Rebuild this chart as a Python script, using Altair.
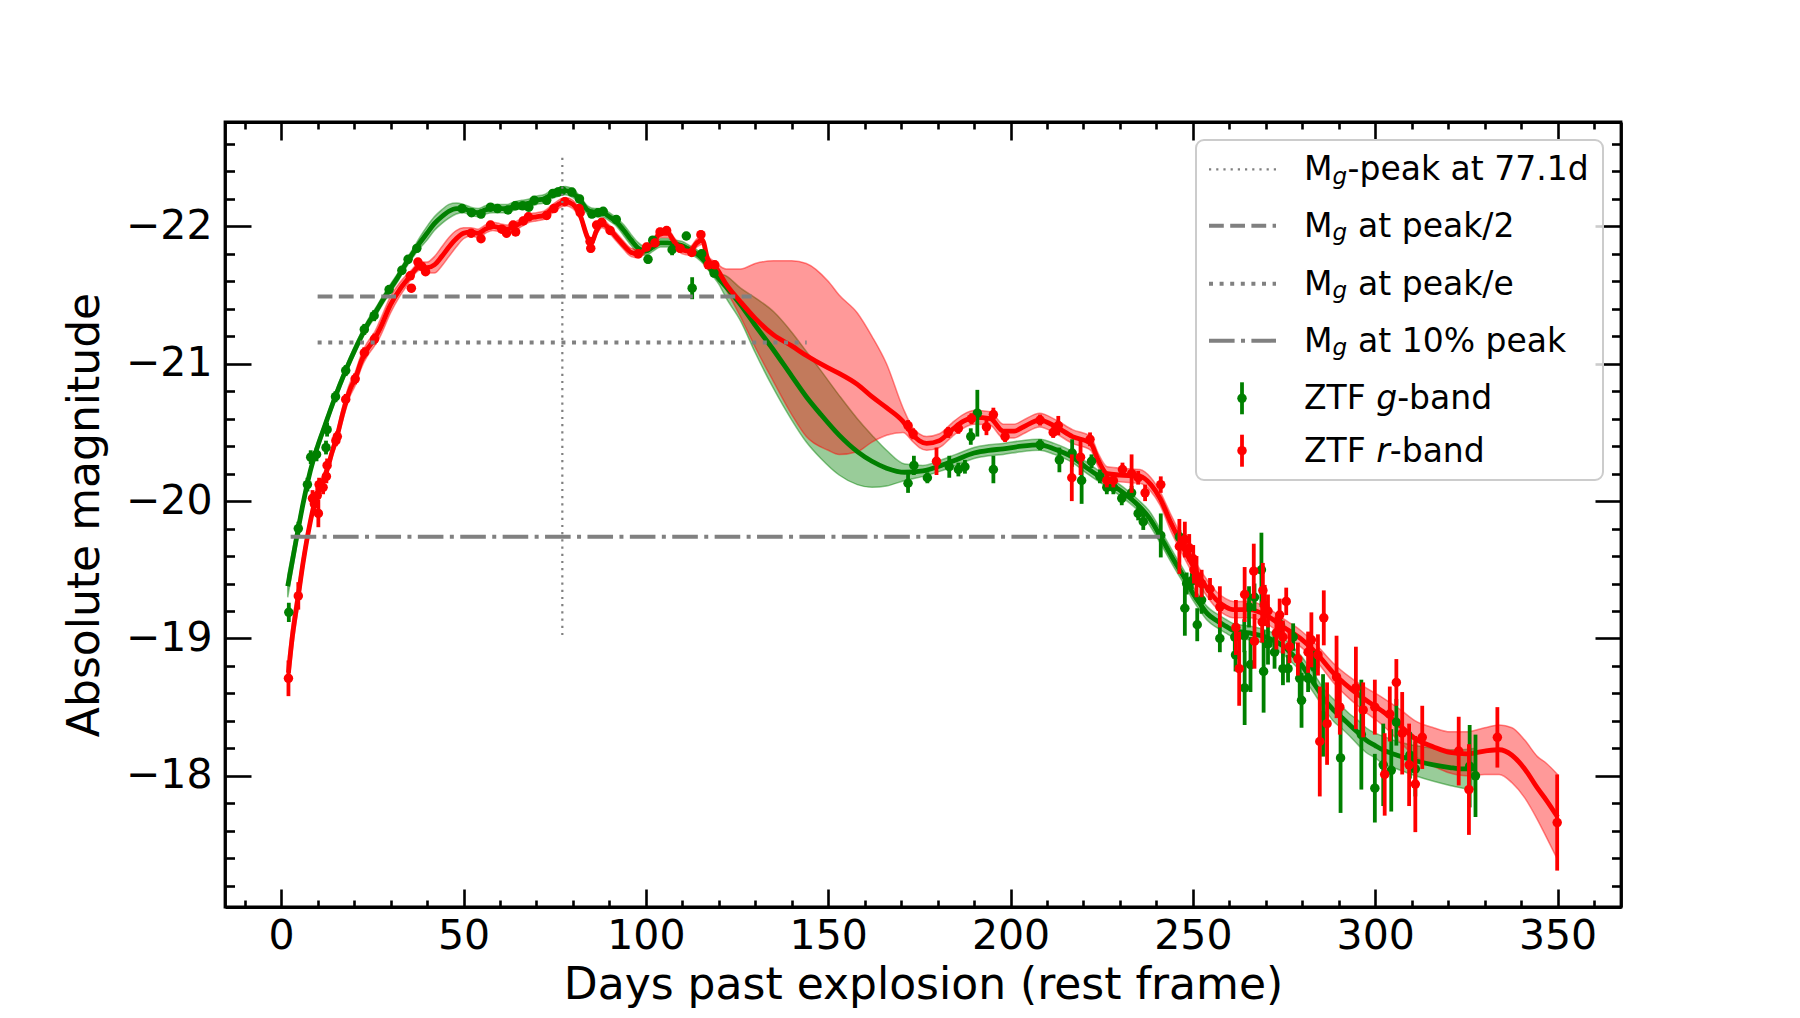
import altair as alt
import pandas as pd

# ---------------- data ----------------
# ZTF g-band photometry
g_day = [2.1, 4.7, 7.2, 8.1, 9.7, 12.3, 12.6, 14.9, 17.7, 22.8,
         25.5, 29.6, 33.1, 34.8, 37.2, 49.6, 52.2, 54.8, 57.4, 59.3,
         62.2, 64.2, 66.2, 67.9, 69.4, 72.8, 74.5, 75.9, 77.0, 79.7,
         81.8, 85.2, 86.9, 88.3, 91.9, 100.6, 101.9, 107.2, 111.1, 112.7,
         115.3, 118.7, 171.9, 173.5, 177.2, 183.2, 185.7, 187.5, 189.1, 190.9,
         195.3, 208.1, 213.4, 216.9, 219.5, 222.2, 224.5, 226.4, 228.2, 230.5,
         233.2, 235.0, 236.4, 241.2, 246.3, 247.8, 248.3, 249.7, 251.2, 252.4,
         257.4, 261.5, 261.7, 264.1, 264.2, 265.4, 265.8, 266.9, 268.8, 269.4,
         270.6, 272.4, 274.0, 274.7, 276.1, 277.5, 279.3, 279.8, 281.6, 283.4,
         285.7, 290.5, 296.2, 299.9, 302.2, 304.4, 305.8, 309.5, 311.0, 325.9,
         327.5]
g_mag = [-19.19, -19.80, -20.12, -20.32, -20.34, -20.39, -20.52, -20.76, -20.95, -21.25,
         -21.35, -21.54, -21.68, -21.76, -21.84, -22.13, -22.10, -22.09, -22.14, -22.13,
         -22.12, -22.15, -22.15, -22.14, -22.19, -22.19, -22.24, -22.25, -22.26, -22.25,
         -22.20, -22.09, -22.10, -22.11, -22.05, -21.76, -21.90, -21.83, -21.93, -21.55,
         -21.80, -21.66, -20.13, -20.26, -20.17, -20.25, -20.23, -20.25, -20.47, -20.64,
         -20.23, -20.41, -20.30, -20.35, -20.15, -20.29, -20.18, -20.10, -20.10, -20.02,
         -20.06, -19.91, -19.85, -19.75, -19.74, -19.22, -19.40, -19.42, -19.10, -19.28,
         -19.00, -19.01, -18.88, -19.02, -18.64, -19.23, -18.81, -19.30, -19.50, -18.76,
         -18.96, -18.90, -19.10, -18.78, -18.78, -19.01, -18.71, -18.55, -18.71, -18.79,
         -18.44, -18.13, -18.30, -17.91, -18.08, -18.04, -18.39, -18.15, -18.05, -18.07,
         -18.00]
g_err = [0.07, 0.05, 0.05, 0.05, 0.05, 0.05, 0.05, 0.04, 0.04, 0.04,
         0.04, 0.03, 0.03, 0.03, 0.03, 0.03, 0.03, 0.03, 0.03, 0.03,
         0.03, 0.03, 0.03, 0.03, 0.03, 0.03, 0.03, 0.03, 0.03, 0.03,
         0.03, 0.03, 0.03, 0.03, 0.03, 0.03, 0.03, 0.04, 0.03, 0.08,
         0.03, 0.03, 0.07, 0.07, 0.04, 0.08, 0.05, 0.05, 0.06, 0.17,
         0.10, 0.04, 0.09, 0.10, 0.17, 0.05, 0.05, 0.05, 0.05, 0.05,
         0.05, 0.05, 0.06, 0.16, 0.05, 0.20, 0.08, 0.06, 0.12, 0.10,
         0.10, 0.10, 0.12, 0.12, 0.27, 0.15, 0.20, 0.10, 0.27, 0.30,
         0.15, 0.12, 0.10, 0.12, 0.10, 0.10, 0.15, 0.20, 0.10, 0.12,
         0.30, 0.40, 0.40, 0.25, 0.30, 0.30, 0.17, 0.17, 0.20, 0.30,
         0.30]

# ZTF r-band photometry
r_day = [2.0, 4.7, 8.6, 9.1, 9.9, 10.2, 10.4, 11.5, 12.4, 12.6,
         15.0, 15.4, 17.7, 20.3, 22.8, 25.6, 35.4, 35.7, 37.5, 38.5,
         39.6, 52.1, 54.8, 57.4, 60.5, 61.8, 63.6, 64.3, 66.4, 67.8,
         72.8, 74.8, 77.8, 81.7, 82.0, 84.7, 84.9, 86.5, 87.9, 90.2,
         97.9, 100.2, 102.5, 103.9, 105.7, 109.4, 112.6, 115.1, 117.1, 118.9,
         171.9, 173.3, 179.7, 182.9, 185.7, 189.3, 193.4, 195.3, 198.5, 208.1,
         211.7, 213.1, 216.8, 219.2, 221.8, 226.4, 228.2, 230.7, 233.2, 235.0,
         236.9, 241.2, 246.3, 247.8, 249.0, 250.1, 250.3, 251.0, 252.4, 254.7,
         257.4, 261.8, 262.7, 264.2, 266.7, 266.9, 269.0, 269.2, 269.7, 270.6,
         272.9, 273.8, 274.7, 275.6, 276.5, 278.8, 281.6, 282.5, 284.3, 284.8,
         285.9, 286.8, 289.4, 290.3, 294.7, 296.7, 299.9, 302.6, 304.0, 305.8,
         307.4, 309.3, 311.0, 312.9, 322.9, 325.7, 333.5, 349.9]
r_mag = [-18.71, -19.31, -20.02, -19.98, -20.04, -19.91, -20.12, -20.10, -20.18, -20.26,
         -20.44, -20.47, -20.74, -20.89, -21.08, -21.18, -21.64, -21.55, -21.74, -21.71,
         -21.67, -21.95, -21.91, -22.01, -21.98, -21.95, -22.01, -21.96, -22.04, -22.07,
         -22.08, -22.13, -22.18, -22.13, -22.10, -21.89, -21.84, -22.01, -22.03, -21.97,
         -21.80, -21.85, -21.88, -21.96, -21.97, -21.84, -21.81, -21.94, -21.72, -21.72,
         -20.55, -20.49, -20.29, -20.50, -20.53, -20.60, -20.54, -20.63, -20.47, -20.59,
         -20.50, -20.55, -20.17, -20.32, -20.45, -20.15, -20.15, -20.23, -20.20, -20.17,
         -20.06, -20.12, -19.67, -19.72, -19.66, -19.58, -19.50, -19.45, -19.40, -19.36,
         -19.23, -19.08, -18.78, -19.32, -19.49, -18.98, -19.12, -19.35, -19.24, -19.20,
         -19.04, -19.17, -19.01, -19.27, -18.94, -18.85, -18.90, -18.99, -18.88, -18.25,
         -19.15, -18.38, -18.72, -18.50, -18.64, -18.48, -18.50, -18.01, -18.45, -18.68,
         -18.31, -18.08, -17.94, -18.28, -18.18, -17.90, -18.28, -17.66]
r_err = [0.13, 0.10, 0.06, 0.08, 0.06, 0.10, 0.05, 0.05, 0.05, 0.05,
         0.04, 0.04, 0.04, 0.04, 0.04, 0.04, 0.03, 0.03, 0.03, 0.03,
         0.03, 0.03, 0.03, 0.03, 0.03, 0.03, 0.03, 0.03, 0.03, 0.03,
         0.03, 0.03, 0.03, 0.03, 0.03, 0.03, 0.03, 0.03, 0.03, 0.03,
         0.03, 0.03, 0.03, 0.03, 0.03, 0.03, 0.03, 0.03, 0.03, 0.03,
         0.04, 0.04, 0.10, 0.04, 0.04, 0.04, 0.06, 0.05, 0.04, 0.04,
         0.04, 0.07, 0.17, 0.13, 0.05, 0.05, 0.05, 0.05, 0.14, 0.05,
         0.06, 0.06, 0.20, 0.13, 0.10, 0.10, 0.10, 0.15, 0.10, 0.08,
         0.15, 0.20, 0.27, 0.20, 0.20, 0.20, 0.15, 0.20, 0.15, 0.12,
         0.12, 0.12, 0.12, 0.10, 0.12, 0.12, 0.15, 0.20, 0.15, 0.40,
         0.20, 0.30, 0.30, 0.20, 0.30, 0.20, 0.20, 0.30, 0.20, 0.17,
         0.30, 0.30, 0.35, 0.23, 0.25, 0.33, 0.22, 0.35]

# g-band smooth fit (mean) and 1-sigma half width
g_fit_day = [1.8, 4, 6, 8, 10, 12, 14, 16, 18, 20,
             22, 24, 26, 28, 30, 32, 34, 36, 38, 40,
             42, 44, 46, 48, 50, 52, 54, 56, 58, 60,
             62, 64, 66, 68, 70, 72, 74, 76, 78, 80,
             82, 84, 86, 88, 90, 92, 94, 96, 98, 100,
             102, 104, 106, 108, 110, 112, 114, 116, 118, 120,
             122, 126, 130, 135, 140, 144, 148, 153, 158, 162,
             166, 171, 176, 181, 185, 190, 194, 198, 203, 208,
             212, 217, 221, 226, 231, 235, 238, 242, 245, 247.5,
             250, 252, 254, 256.5, 259, 261, 265.5, 270, 275, 277,
             279.5, 282, 284, 286, 288.5, 291, 293, 295.5, 297.5, 300,
             302, 306, 311, 316, 320.5, 324, 327.5]
g_fit_mag = [-19.38, -19.70, -19.98, -20.22, -20.40, -20.55, -20.70, -20.84, -20.97, -21.09,
             -21.20, -21.30, -21.38, -21.47, -21.55, -21.63, -21.72, -21.80, -21.88, -21.95,
             -22.02, -22.07, -22.11, -22.13, -22.13, -22.11, -22.10, -22.12, -22.13, -22.13,
             -22.13, -22.15, -22.16, -22.17, -22.19, -22.20, -22.23, -22.25, -22.26, -22.24,
             -22.19, -22.12, -22.10, -22.10, -22.07, -22.03, -21.97, -21.90, -21.84, -21.82,
             -21.85, -21.88, -21.88, -21.87, -21.86, -21.83, -21.80, -21.75, -21.68, -21.62,
             -21.56, -21.43, -21.28, -21.10, -20.91, -20.76, -20.63, -20.48, -20.36, -20.29,
             -20.24, -20.21, -20.22, -20.26, -20.30, -20.35, -20.37, -20.38, -20.40, -20.41,
             -20.38, -20.32, -20.24, -20.15, -20.06, -19.97, -19.88, -19.70, -19.56, -19.45,
             -19.33, -19.25, -19.18, -19.13, -19.09, -19.06, -19.04, -19.01, -18.94, -18.89,
             -18.82, -18.72, -18.64, -18.56, -18.48, -18.42, -18.37, -18.31, -18.26, -18.22,
             -18.19, -18.15, -18.11, -18.08, -18.06, -18.05, -18.05]
g_fit_sig = [0.08, 0.06, 0.04, 0.03, 0.03, 0.03, 0.03, 0.03, 0.03, 0.03,
             0.03, 0.03, 0.03, 0.03, 0.03, 0.03, 0.03, 0.03, 0.04, 0.05,
             0.05, 0.05, 0.05, 0.04, 0.03, 0.03, 0.03, 0.03, 0.03, 0.03,
             0.03, 0.03, 0.03, 0.03, 0.03, 0.03, 0.03, 0.03, 0.03, 0.03,
             0.03, 0.03, 0.03, 0.03, 0.03, 0.03, 0.04, 0.04, 0.04, 0.03,
             0.03, 0.03, 0.03, 0.03, 0.03, 0.03, 0.03, 0.03, 0.03, 0.04,
             0.08, 0.12, 0.20, 0.28, 0.32, 0.33, 0.32, 0.29, 0.24, 0.19,
             0.13, 0.06, 0.04, 0.04, 0.04, 0.04, 0.04, 0.04, 0.04, 0.04,
             0.04, 0.04, 0.04, 0.04, 0.04, 0.04, 0.05, 0.05, 0.05, 0.05,
             0.05, 0.05, 0.05, 0.05, 0.05, 0.05, 0.05, 0.05, 0.06, 0.06,
             0.06, 0.07, 0.07, 0.07, 0.08, 0.08, 0.08, 0.09, 0.09, 0.09,
             0.10, 0.10, 0.11, 0.12, 0.13, 0.14, 0.15]

# r-band smooth fit (mean) and band half widths (bright side / faint side)
r_fit_day = [2, 3, 4.7, 6, 8, 9, 10, 11, 12.5, 14,
             15.2, 17, 19, 20.3, 22, 23.5, 25.6, 27, 30, 32.5,
             34.5, 36, 38, 40, 42, 44, 46, 48, 50, 52,
             54, 56, 58, 60, 62, 64, 66, 68, 70, 72,
             74, 76, 78, 80, 82, 84, 85, 86.5, 88, 90,
             92, 94, 96, 98, 100, 102, 104, 106, 108, 110,
             112, 114, 115.5, 117, 119, 122, 126, 130, 135, 140,
             144, 150, 153, 158, 162, 166, 170.5, 173.3, 175, 177,
             180.5, 184, 187, 190, 194.5, 198, 201, 203.5, 208, 212.5,
             217, 222, 224, 226.5, 230, 235.5, 238.5, 241, 244, 247,
             250, 253, 256.5, 259, 261, 265.5, 270, 275, 279.5, 284,
             288.5, 293, 297.5, 302, 307, 311, 316, 320.5, 325, 330,
             334, 337.5, 341, 344.5, 347, 350]
r_fit_mag = [-18.75, -19.00, -19.31, -19.55, -19.85, -19.97, -20.05, -20.12, -20.22, -20.36,
             -20.46, -20.65, -20.82, -20.89, -21.02, -21.10, -21.18, -21.25, -21.43, -21.54,
             -21.61, -21.66, -21.71, -21.70, -21.72, -21.78, -21.85, -21.91, -21.95, -21.96,
             -21.95, -21.98, -22.00, -21.99, -21.98, -22.00, -22.03, -22.06, -22.07, -22.08,
             -22.12, -22.16, -22.18, -22.16, -22.08, -21.92, -21.88, -21.97, -22.02, -21.98,
             -21.92, -21.86, -21.81, -21.80, -21.84, -21.88, -21.95, -21.95, -21.88, -21.83,
             -21.82, -21.88, -21.90, -21.76, -21.71, -21.58, -21.45, -21.33, -21.21, -21.13,
             -21.06, -20.97, -20.93, -20.85, -20.76, -20.68, -20.58, -20.48, -20.44, -20.42,
             -20.44, -20.52, -20.58, -20.61, -20.60, -20.51, -20.51, -20.54, -20.59, -20.54,
             -20.47, -20.42, -20.30, -20.20, -20.19, -20.18, -20.12, -20.02, -19.84, -19.68,
             -19.53, -19.40, -19.28, -19.23, -19.21, -19.21, -19.17, -19.08, -19.00, -18.89,
             -18.75, -18.64, -18.55, -18.47, -18.36, -18.27, -18.21, -18.17, -18.16, -18.18,
             -18.19, -18.15, -18.05, -17.91, -17.82, -17.70]
r_fit_up = [0.12, 0.10, 0.08, 0.06, 0.04, 0.04, 0.04, 0.04, 0.04, 0.04,
            0.04, 0.05, 0.05, 0.05, 0.05, 0.05, 0.05, 0.06, 0.06, 0.05,
            0.04, 0.03, 0.03, 0.04, 0.06, 0.07, 0.07, 0.06, 0.04, 0.03,
            0.03, 0.03, 0.03, 0.03, 0.03, 0.03, 0.03, 0.03, 0.03, 0.03,
            0.03, 0.03, 0.03, 0.03, 0.03, 0.03, 0.03, 0.03, 0.03, 0.03,
            0.03, 0.03, 0.03, 0.03, 0.03, 0.03, 0.03, 0.03, 0.03, 0.03,
            0.03, 0.03, 0.03, 0.03, 0.03, 0.11, 0.24, 0.40, 0.54, 0.62,
            0.67, 0.63, 0.57, 0.52, 0.44, 0.32, 0.10, 0.05, 0.05, 0.05,
            0.05, 0.05, 0.05, 0.05, 0.05, 0.05, 0.05, 0.05, 0.05, 0.05,
            0.05, 0.05, 0.05, 0.05, 0.05, 0.05, 0.05, 0.05, 0.06, 0.06,
            0.06, 0.06, 0.06, 0.06, 0.06, 0.06, 0.06, 0.06, 0.06, 0.06,
            0.07, 0.08, 0.09, 0.10, 0.12, 0.13, 0.14, 0.15, 0.16, 0.17,
            0.18, 0.20, 0.21, 0.23, 0.27, 0.31]
r_fit_dn = [0.12, 0.10, 0.08, 0.06, 0.04, 0.04, 0.04, 0.04, 0.04, 0.04,
            0.04, 0.05, 0.05, 0.05, 0.05, 0.05, 0.05, 0.06, 0.06, 0.05,
            0.04, 0.03, 0.03, 0.04, 0.06, 0.07, 0.07, 0.06, 0.04, 0.03,
            0.03, 0.03, 0.03, 0.03, 0.03, 0.03, 0.03, 0.03, 0.03, 0.03,
            0.03, 0.03, 0.03, 0.03, 0.03, 0.03, 0.03, 0.03, 0.03, 0.03,
            0.03, 0.03, 0.03, 0.03, 0.03, 0.03, 0.03, 0.03, 0.03, 0.03,
            0.03, 0.03, 0.03, 0.03, 0.03, 0.04, 0.11, 0.21, 0.34, 0.50,
            0.59, 0.60, 0.59, 0.49, 0.33, 0.20, 0.08, 0.05, 0.05, 0.05,
            0.05, 0.05, 0.05, 0.05, 0.05, 0.05, 0.05, 0.05, 0.05, 0.05,
            0.05, 0.05, 0.05, 0.05, 0.05, 0.05, 0.05, 0.05, 0.06, 0.06,
            0.06, 0.06, 0.06, 0.06, 0.06, 0.06, 0.06, 0.06, 0.06, 0.06,
            0.07, 0.08, 0.09, 0.10, 0.12, 0.13, 0.14, 0.15, 0.16, 0.17,
            0.18, 0.20, 0.21, 0.23, 0.27, 0.31]

# reference markers
peak_day = 77.1
peak_vline_mag = [-22.5, -19.0]
ref_mag = [-21.49, -21.155, -19.74]        # peak/2, peak/e, 10% peak
ref_start = [10.0, 10.0, 2.6]
ref_end = [129.0, 144.1, 241.0]

# axis ticks
XMAJ = [0, 50, 100, 150, 200, 250, 300, 350]
YMAJ = [-22, -21, -20, -19, -18]

# legend texts
leg_rest = ["-peak at 77.1d", "at peak/2", "at peak/e", "at 10% peak"]
leg_band = ["g", "r"]

# ---------------- layout / style ----------------
W, H = 1396, 785
FONT = "DejaVu Sans"
GREEN, RED, GRAY = "#008000", "#ff0000", "#808080"
XMIN = [v for v in range(-10, 361, 10) if v % 50 != 0]
YMIN = [round(-22.6 + 0.2 * i, 1) for i in range(28)]
YMIN = [v for v in YMIN if abs(v - round(v)) > 1e-6]

xs = alt.Scale(domain=[-15.4, 367.4], nice=False, zero=False)
ys = alt.Scale(domain=[-22.76, -17.045], reverse=True, nice=False, zero=False)


def xq(f):
    return alt.X(f"{f}:Q", scale=xs, axis=None)


def yq(f):
    return alt.Y(f"{f}:Q", scale=ys, axis=None)


g_pts = pd.DataFrame({"day": g_day, "mag": g_mag, "err": g_err})
g_pts["top"] = g_pts["mag"] - g_pts["err"]
g_pts["bot"] = g_pts["mag"] + g_pts["err"]
r_pts = pd.DataFrame({"day": r_day, "mag": r_mag, "err": r_err})
r_pts["top"] = r_pts["mag"] - r_pts["err"]
r_pts["bot"] = r_pts["mag"] + r_pts["err"]

g_fit = pd.DataFrame({"day": g_fit_day, "mag": g_fit_mag, "sig": g_fit_sig})
g_fit["bright"] = g_fit["mag"] - g_fit["sig"]
g_fit["faint"] = g_fit["mag"] + g_fit["sig"]
r_fit = pd.DataFrame({"day": r_fit_day, "mag": r_fit_mag, "up": r_fit_up, "dn": r_fit_dn})
r_fit["bright"] = r_fit["mag"] - r_fit["up"]
r_fit["faint"] = r_fit["mag"] + r_fit["dn"]


def band(df, c):
    return alt.Chart(df).mark_area(
        fill=c, fillOpacity=0.4, stroke=c, strokeOpacity=0.45, strokeWidth=1.5,
        interpolate="monotone").encode(x=xq("day"), y=yq("bright"), y2=alt.Y2("faint"))


def fitline(df, c):
    return alt.Chart(df).mark_line(color=c, strokeWidth=4.8, interpolate="monotone").encode(
        x=xq("day"), y=yq("mag"))


def errbars(df, c):
    return alt.Chart(df).mark_rule(color=c, strokeWidth=3.8).encode(
        x=xq("day"), y=yq("top"), y2=alt.Y2("bot"))


def points(df, c):
    return alt.Chart(df).mark_circle(color=c, size=90, opacity=1).encode(
        x=xq("day"), y=yq("mag"))


layers = [band(g_fit, GREEN), band(r_fit, RED),
          fitline(g_fit, GREEN), fitline(r_fit, RED),
          errbars(g_pts, GREEN), points(g_pts, GREEN),
          errbars(r_pts, RED), points(r_pts, RED)]

# reference lines
ref_styles = [dict(strokeWidth=4, strokeDash=[14.8, 6.4]),
              dict(strokeWidth=4, strokeDash=[4, 6.6]),
              dict(strokeWidth=4, strokeDash=[25.6, 6.4, 4, 6.4])]
vline_style = dict(strokeWidth=2.2, strokeDash=[2.2, 5.0])
for m, a, b, st in zip(ref_mag, ref_start, ref_end, ref_styles):
    d = pd.DataFrame({"x1": [a], "x2": [b], "m": [m]})
    layers.append(alt.Chart(d).mark_rule(color=GRAY, strokeCap="butt", **st).encode(
        x=xq("x1"), x2=alt.X2("x2"), y=yq("m")))
vdf = pd.DataFrame({"x": [peak_day], "m1": [peak_vline_mag[0]], "m2": [peak_vline_mag[1]]})
layers.append(alt.Chart(vdf).mark_rule(color=GRAY, strokeCap="butt", **vline_style).encode(
    x=xq("x"), y=yq("m1"), y2=alt.Y2("m2")))

# axes (labels + inward ticks on all four sides)
anchor = pd.DataFrame({"day": [0.0], "mag": [-20.0]})


def axis_layer(xaxis, yaxis):
    return alt.Chart(anchor).mark_point(opacity=0, size=1).encode(
        x=alt.X("day:Q", scale=xs, axis=xaxis), y=alt.Y("mag:Q", scale=ys, axis=yaxis))


layers.append(axis_layer(
    alt.Axis(orient="bottom", values=XMAJ, format="d", ticks=False, tickSize=0, domain=False,
             grid=False, labelFont=FONT, labelFontSize=41, labelColor="black", labelPadding=9,
             labelOverlap=False, labelFlush=False,
             title="Days past explosion (rest frame)", titleFont=FONT, titleFontSize=44,
             titleFontWeight="normal", titleColor="black", titleBaseline="alphabetic", titleY=91.5),
    alt.Axis(orient="left", values=YMAJ, format="d", ticks=False, tickSize=0, domain=False,
             grid=False, labelFont=FONT, labelFontSize=41, labelColor="black", labelPadding=13,
             labelOverlap=False, title="Absolute magnitude", titleFont=FONT, titleFontSize=44,
             titleFontWeight="normal", titleColor="black", titleAngle=270,
             titleBaseline="alphabetic", titleAlign="center", titleX=-127, titleY=H / 2)))

tick_common = dict(labels=False, grid=False, ticks=True, tickColor="black",
                   tickWidth=2.6, title=None, domainColor="black", domainWidth=2.8)
for xv, yv, xsz, ysz, dom in [(XMAJ, YMAJ, 18, 26, True), (XMIN, YMIN, 7, 9.5, False)]:
    # bottom & left edges (ticks pointing inward)
    layers.append(axis_layer(
        alt.Axis(orient="top", offset=-H, values=xv, tickSize=xsz, domain=dom, **tick_common),
        alt.Axis(orient="right", offset=-W, values=yv, tickSize=ysz, domain=dom, **tick_common)))
    # top & right edges
    layers.append(axis_layer(
        alt.Axis(orient="bottom", offset=-H, values=xv, tickSize=xsz, domain=dom, **tick_common),
        alt.Axis(orient="left", offset=-W, values=yv, tickSize=ysz, domain=dom, **tick_common)))

# legend
one = pd.DataFrame({"a": [0]})
LEG_BOX = (971, 18, 1378, 358)
LEG_Y = [47.3, 103.7, 161.7, 218.7, 276.3, 328.7]
H_X1, H_X2, H_XC, T_X = 984, 1051, 1017, 1079
layers.append(alt.Chart(one).mark_rect(
    fill="white", fillOpacity=0.8, stroke="#cccccc", strokeWidth=2, cornerRadius=8).encode(
    x=alt.value(LEG_BOX[0]), x2=alt.value(LEG_BOX[2]), y=alt.value(LEG_BOX[1]), y2=alt.value(LEG_BOX[3])))

leg_line_styles = [vline_style] + ref_styles
for yy, st in zip(LEG_Y[:4], leg_line_styles):
    layers.append(alt.Chart(one).mark_rule(color=GRAY, strokeCap="butt", **st).encode(
        x=alt.value(H_X1), x2=alt.value(H_X2), y=alt.value(yy)))
for yy, c in zip(LEG_Y[4:], [GREEN, RED]):
    layers.append(alt.Chart(one).mark_rule(color=c, strokeWidth=3.8).encode(
        x=alt.value(H_XC), y=alt.value(yy - 16), y2=alt.value(yy + 16)))
    layers.append(alt.Chart(one).mark_circle(color=c, size=90, opacity=1).encode(
        x=alt.value(H_XC), y=alt.value(yy)))

LFS, SFS = 33, 23


def txt(s, x, y, size=LFS, style="normal"):
    return alt.Chart(one).mark_text(
        align="left", baseline="alphabetic", font=FONT, fontSize=size, fontStyle=style,
        color="black").encode(x=alt.value(x), y=alt.value(y), text=alt.value(s))


M_W = 1767 / 2048 * LFS
SUBG_W = 1300 / 2048 * SFS
SPACE_W = 651 / 2048 * LFS
for i, (yy, rest) in enumerate(zip(LEG_Y[:4], leg_rest)):
    b = yy + 11
    layers.append(txt("M", T_X, b))
    layers.append(txt("g", T_X + M_W, b + 3.5, SFS, "italic"))
    gap = 0.5 if i == 0 else SPACE_W + 0.5
    layers.append(txt(rest, T_X + M_W + SUBG_W + gap, b))
ZTF_W = 3830 / 2048 * LFS
for yy, band_letter, adv in zip(LEG_Y[4:], leg_band, [1300, 842]):
    b = yy + 11
    layers.append(txt("ZTF", T_X, b))
    layers.append(txt(band_letter, T_X + ZTF_W + SPACE_W, b, LFS, "italic"))
    layers.append(txt("-band", T_X + ZTF_W + SPACE_W + adv / 2048 * LFS, b))

chart = alt.layer(*layers).resolve_axis(x="independent", y="independent").properties(
    width=W, height=H,
    autosize=alt.AutoSizeParams(type="none"),
    padding={"left": 217, "top": 114, "right": 160, "bottom": 103},
    background="white",
).configure_view(stroke="black", strokeWidth=2.8)

chart.save("out.html", embed_options={"renderer": "svg", "actions": False})
